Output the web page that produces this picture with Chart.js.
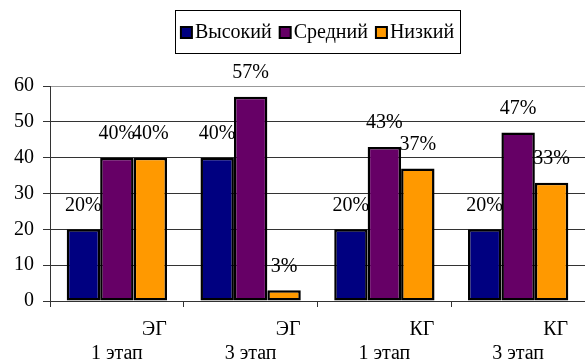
<!DOCTYPE html>
<html>
<head>
<meta charset="utf-8">
<script src="https://cdn.jsdelivr.net/npm/chart.js@4.4.0/dist/chart.umd.min.js"></script>
<style>
  html, body { margin: 0; padding: 0; background: #fff; }
  #wrap { width: 585px; height: 361px; }
</style>
</head>
<body>
<div id="wrap"><canvas id="myChart"></canvas></div>
<script>
// groups and levels
const groups = [
     ["               ЭГ", "1 этап"],
     ["               ЭГ", "3 этап"],
     ["               КГ", "1 этап"],
     ["               КГ", "3 этап"]
];
const high = [20, 40, 20, 20];
const middle = [40, 57, 43, 47];
const low = [40, 3, 37, 33];
const yTicks = [0, 10, 20, 30, 40, 50, 60];

const serif = "'Liberation Serif', 'DejaVu Serif', Tinos, 'Times New Roman', serif";
const font20 = "20px " + serif;

// percent labels over each bar
const valueLabels = {
     id: "valueLabels",
     afterDatasetsDraw(chart) {
          const ctx = chart.ctx;
          ctx.save();
          ctx.font = font20;
          ctx.fillStyle = "#000";
          ctx.textAlign = "center";
          ctx.textBaseline = "middle";
          chart.data.datasets.forEach((ds, i) => {
               chart.getDatasetMeta(i).data.forEach((bar, j) => {
                    ctx.fillText(ds.data[j] + "%", bar.x, bar.y - 24);
               });
          });
          ctx.restore();
     }
};

// boxed legend centred over the plot
const boxLegend = {
     id: "boxLegend",
     afterDraw(chart) {
          const ctx = chart.ctx;
          const area = chart.chartArea;
          ctx.save();
          ctx.font = font20;
          const sq = 11, gapText = 3, gapItem = 8, pad = 6;
          let total = pad * 2;
          chart.data.datasets.forEach((ds, i) => {
               total += sq + gapText + ctx.measureText(ds.label).width;
               if (i < chart.data.datasets.length - 1) total += gapItem;
          });
          let x = (area.left + area.right) / 2 - total / 2;
          const top = 10, h = 43;
          ctx.strokeStyle = "#000";
          ctx.lineWidth = 1;
          ctx.strokeRect(Math.round(x) + 0.5, top + 0.5, Math.round(total), h);
          const cy = top + h / 2 + 1;
          x += pad;
          ctx.textBaseline = "middle";
          chart.data.datasets.forEach((ds) => {
               ctx.fillStyle = ds.backgroundColor;
               ctx.fillRect(x, cy - sq / 2, sq, sq);
               ctx.lineWidth = 2;
               ctx.strokeRect(x, cy - sq / 2, sq, sq);
               x += sq + gapText;
               ctx.fillStyle = "#000";
               ctx.fillText(ds.label, x, cy);
               x += ctx.measureText(ds.label).width + gapItem;
          });
          ctx.restore();
     }
};

const ctx = document.getElementById("myChart").getContext("2d");

var chart = new Chart(ctx, {
     type: "bar",
     data: {
          labels: groups,
          datasets: [
               { label: "Высокий", data: high, backgroundColor: "#000080" },
               { label: "Средний", data: middle, backgroundColor: "#660066" },
               { label: "Низкий", data: low, backgroundColor: "#FF9900" }
          ]
     },
     options: {
          responsive: true,
          maintainAspectRatio: false,
          animation: false,
          layout: { padding: { top: 86, right: -3, left: 0, bottom: 0 } },
          datasets: {
               bar: {
                    categoryPercentage: 0.75,
                    barPercentage: 1,
                    borderColor: "#000",
                    borderWidth: 2.5,
                    borderSkipped: false
               }
          },
          plugins: {
               legend: { display: false },
               tooltip: { enabled: false }
          },
          scales: {
               x: {
                    afterFit(scale) { scale.height = 60; },
                    grid: {
                         drawOnChartArea: false,
                         drawTicks: true,
                         tickLength: 6,
                         color: "#333"
                    },
                    border: { color: "#333", width: 1 },
                    ticks: {
                         color: "#000",
                         padding: 11,
                         maxRotation: 0,
                         autoSkip: false,
                         font: { family: serif, size: 20, lineHeight: 1.2 }
                    }
               },
               y: {
                    min: 0,
                    max: 60,
                    afterFit(scale) { scale.width = 50; },
                    afterBuildTicks(scale) {
                         scale.ticks = yTicks.map(v => ({ value: v }));
                    },
                    grid: {
                         color: (c) => c.tick && c.tick.value === 60 ? "#999" : "#333",
                         tickLength: 7,
                         tickColor: "#333"
                    },
                    border: { color: "#333", width: 1 },
                    ticks: {
                         color: "#000",
                         padding: 9,
                         font: { family: serif, size: 20 }
                    }
               }
          }
     },
     plugins: [valueLabels, boxLegend]
});
</script>
</body>
</html>
